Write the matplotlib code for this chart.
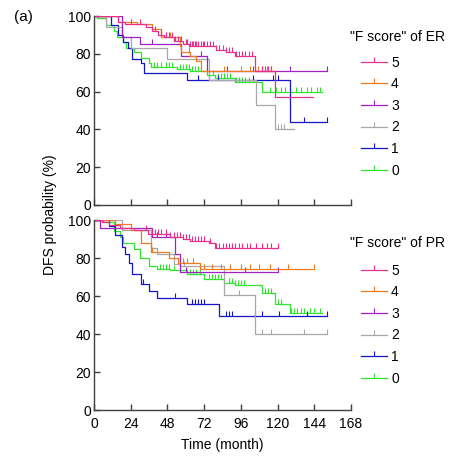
import numpy as np
import matplotlib.pyplot as plt
from matplotlib.lines import Line2D

plt.rcParams['font.family'] = ['Liberation Sans', 'DejaVu Sans']
plt.rcParams['font.size'] = 10

groups = ['5', '4', '3', '2', '1', '0']
colors = ['#E8308A', '#F07A1E', '#A020C8', '#A8A8A8', '#1414C8', '#2EE62E']

# ER panel: step points (month, DFS %), last point = end of follow-up
er5_steps = [(0, 100), (16, 97), (20, 96), (34, 94), (38, 92), (42, 90), (46, 89), (52, 87),
             (58, 85), (62, 84), (80, 82), (86, 81), (92, 79), (105, 71), (118, 57), (143, 57)]
er5_cens = [24, 30, 40, 44, 47, 49, 51, 53, 55, 57, 60, 61, 63, 64, 65, 66, 67, 68, 70, 71, 72,
            74, 76, 78, 80, 82, 84, 86, 88, 90, 93, 95, 97, 99, 101, 103, 110, 112, 114, 116]
er4_steps = [(0, 100), (16, 97), (28, 96), (38, 93), (44, 89), (56, 84), (57, 81), (63, 79),
             (67, 76), (70, 71), (118, 71)]
er4_cens = [44, 47, 50, 62, 85, 96, 102, 107, 110, 113, 116]
er3_steps = [(0, 100), (18, 89), (30, 85), (57, 79), (74, 71), (152, 71)]
er3_cens = [38, 70, 87, 104, 128, 152]
er2_steps = [(0, 100), (8, 94), (18, 89), (24, 83), (48, 77), (75, 66), (106, 53), (118, 40),
             (131, 40)]
er2_cens = [120, 122, 124]
er1_steps = [(0, 100), (11, 95), (16, 90), (19, 86), (22, 83), (25, 77), (31, 75), (33, 70),
             (61, 66), (128, 44), (152, 44)]
er1_cens = [68, 75, 81, 104, 117, 120, 137, 152]
er0_steps = [(0, 100), (2, 99), (8, 95), (13, 92), (15, 89), (19, 86), (21, 83), (26, 81),
             (31, 78), (36, 75), (37, 73), (54, 72), (63, 71), (74, 69), (79, 67), (92, 65),
             (110, 60), (149, 60)]
er0_cens = [39, 41, 44, 47, 49, 51, 56, 58, 60, 62, 64, 66, 68, 70, 78, 81, 83, 85, 87, 89,
            93, 95, 97, 99, 101, 104, 115, 119, 122, 125, 128, 132, 135, 139, 142, 146, 148]

# PR panel
pr5_steps = [(0, 100), (5, 99), (10, 97.5), (17, 96), (26, 94.5), (35, 92.5), (50, 91),
             (58, 90), (63, 89), (75, 88), (79, 85.5), (120, 85.5)]
pr5_cens = [34, 38, 40, 42, 44, 47, 50, 52, 54, 56, 58, 60, 62, 64, 66, 68, 70, 72, 76, 80,
            82, 84, 86, 88, 90, 92, 95, 97, 100, 102, 106, 110, 113, 116, 120]
pr4_steps = [(0, 100), (14, 98), (24, 95), (31, 88), (37, 83), (49, 80), (55, 77.6), (69, 74),
             (144, 74)]
pr4_cens = [38, 58, 61, 65, 72, 77, 83, 89, 96, 102, 108, 115, 127, 144]
pr3_steps = [(0, 100), (4, 96), (38, 91), (53, 82), (56, 72.5), (120, 72.5)]
pr3_cens = [41, 47, 60, 99, 120]
pr2_steps = [(0, 100), (18, 95), (37, 85.5), (41, 82), (52, 77), (56, 75.8), (85, 60.5),
             (105, 40), (152, 40)]
pr2_cens = [59, 95, 110, 116, 137, 152]
pr1_steps = [(0, 100), (10, 97), (14, 92), (18, 86), (20, 82), (23, 77.6), (25, 71.4),
             (31, 66.5), (36, 62.6), (41, 59), (61, 56), (82, 49.7), (152, 49.7)]
pr1_cens = [32, 53, 64, 66, 68, 70, 72, 86, 88, 90, 105, 110, 121, 139, 152]
pr0_steps = [(0, 100), (6, 99), (13, 94), (17, 91), (19, 88), (26, 85), (30, 80), (36, 76),
             (41, 74), (50, 73.5), (61, 71.4), (72, 68.8), (85, 67), (92, 65.6), (110, 61.7),
             (118, 55.6), (128, 50.8), (149, 50.8)]
pr0_cens = [43, 45, 47, 49, 52, 63, 65, 67, 69, 75, 77, 79, 81, 83, 88, 90, 92, 94, 96, 98,
            112, 114, 116, 120, 122, 129, 131, 133, 135, 137, 141, 144, 148]

er_curves = [(er5_steps, er5_cens), (er4_steps, er4_cens), (er3_steps, er3_cens),
             (er2_steps, er2_cens), (er1_steps, er1_cens), (er0_steps, er0_cens)]
pr_curves = [(pr5_steps, pr5_cens), (pr4_steps, pr4_cens), (pr3_steps, pr3_cens),
             (pr2_steps, pr2_cens), (pr1_steps, pr1_cens), (pr0_steps, pr0_cens)]

TICK = [(0, 0), (0, 1)]


def km_plot(ax, curves):
    # draw green first so pink ends up on top
    for (steps, cens), c in reversed(list(zip(curves, colors))):
        t = np.array([p[0] for p in steps])
        s = np.array([p[1] for p in steps])
        ax.step(t, s, where='post', color=c, lw=0.9)
        cens = np.array(cens)
        idx = np.searchsorted(t, cens, side='right') - 1
        ax.plot(cens, s[idx], ls='none', marker=TICK, ms=7, mec=c, mfc='none', mew=0.8)


def style(ax):
    ax.set_xlim(0, 168)
    ax.set_ylim(0, 100)
    ax.set_xticks(np.arange(0, 169, 24))
    ax.set_yticks(np.arange(0, 101, 20))
    ax.spines['top'].set_visible(False)
    ax.spines['right'].set_visible(False)
    for sp in ['left', 'bottom']:
        ax.spines[sp].set_color('#404040')
        ax.spines[sp].set_linewidth(1.0)
    ax.tick_params(direction='in', length=4, color='#404040', width=1, pad=2)
    ax.tick_params(axis='x', pad=5)


def legend(fig, title, y_title, y_top):
    handles = [Line2D([0, 0.5, 1], [0, 0, 0], color=c, lw=0.9, marker=TICK, ms=7, mfc='none',
                      mew=0.8, markevery=[1]) for c in colors]
    fig.text(397 / 461, 1 - y_title / 459, title, ha='center', va='center')
    fig.legend(handles, groups, loc='upper left', bbox_to_anchor=(355 / 461, 1 - y_top / 459),
               frameon=False, handlelength=1.9, handletextpad=0.3, labelspacing=0.55,
               fontsize=10, borderaxespad=0)


fig = plt.figure(figsize=(4.61, 4.59), dpi=100)
ax1 = fig.add_axes([94 / 461, 1 - 205 / 459, 257 / 461, 189 / 459])
ax2 = fig.add_axes([94 / 461, 1 - 410 / 459, 257 / 461, 190 / 459])

km_plot(ax1, er_curves)
km_plot(ax2, pr_curves)
style(ax1)
style(ax2)
ax1.set_xticklabels([])
ax2.set_xlabel('Time (month)', labelpad=5)

legend(fig, '"F score" of ER', 37, 50)
legend(fig, '"F score" of PR', 243, 258)

fig.text(50 / 461, 1 - 215 / 459, 'DFS probability (%)', rotation=90, ha='center', va='center')
fig.text(14 / 461, 1 - 17 / 459, '(a)', ha='left', va='center', fontsize=11)

fig.savefig('out.png', dpi=100)
